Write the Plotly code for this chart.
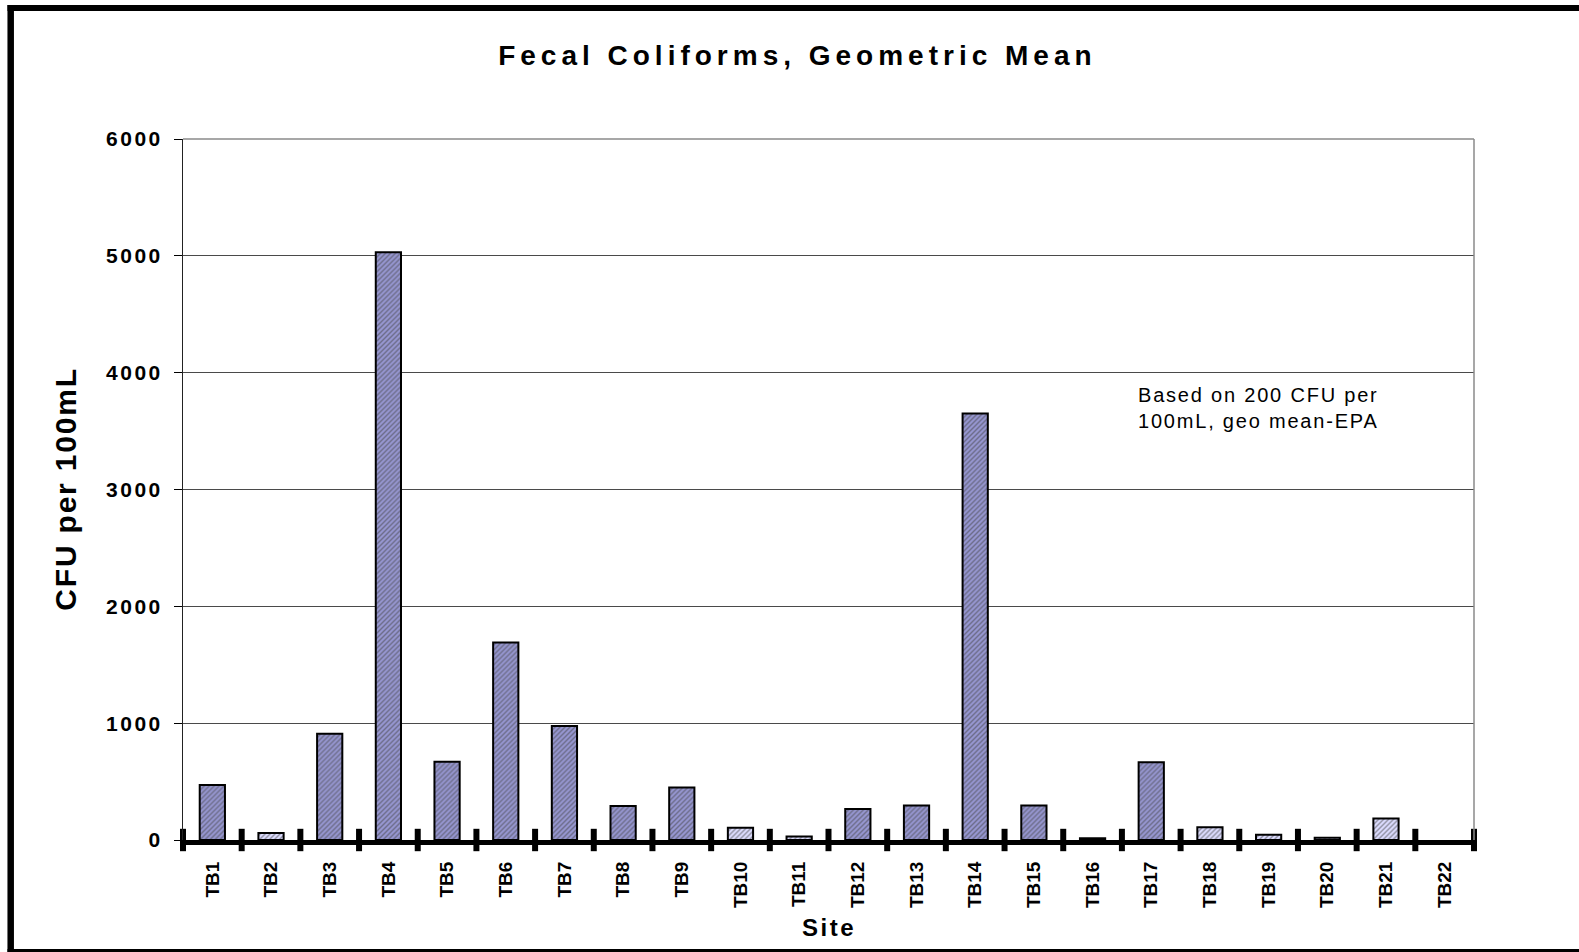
import plotly.graph_objects as go

# Fecal coliform geometric means per sampling site (CFU per 100 mL)
sites = ["TB1", "TB2", "TB3", "TB4", "TB5", "TB6", "TB7", "TB8", "TB9", "TB10", "TB11",
         "TB12", "TB13", "TB14", "TB15", "TB16", "TB17", "TB18", "TB19", "TB20", "TB21", "TB22"]
geo_mean = [470, 60, 910, 5030, 670, 1690, 975, 290, 450, 105, 30,
            265, 295, 3650, 295, 15, 665, 110, 45, 20, 185, None]
epa_limit = 200  # EPA geometric-mean standard, CFU per 100 mL
y_ticks = [0, 1000, 2000, 3000, 4000, 5000, 6000]

W, H = 1579, 952
ML, MR, MT, MB = 183, 105, 139, 112
PW, PH = W - ML - MR, H - MT - MB


def px_x(p):
    return (p - ML) / PW


def px_y(p):
    return (H - MB - p) / PH


FONT = "Liberation Sans, Arial, sans-serif"
pos = list(range(len(sites)))

over = [v is not None and v >= epa_limit for v in geo_mean]
bg = ["#9696d0" if o else "#dcdcff" for o in over]
fg = ["#6c6caa" if o else "#7c7cff" for o in over]

fig = go.Figure()
fig.add_trace(go.Bar(
    x=pos, y=geo_mean,
    marker=dict(color=bg, line=dict(color="black", width=2),
                pattern=dict(shape="/", size=3.5, solidity=0.4, fgcolor=fg, bgcolor=bg)),
    hoverinfo="skip", showlegend=False,
))
# category boundary marks on the x axis
bounds = [i - 0.5 for i in range(len(sites) + 1)]
fig.add_trace(go.Scatter(
    x=bounds, y=[0] * len(bounds), mode="markers", cliponaxis=False,
    marker=dict(symbol="line-ns", size=16, color="black", line=dict(color="black", width=6)),
    hoverinfo="skip", showlegend=False,
))

shapes = [
    # plot frame (top, right)
    dict(type="line", xref="paper", yref="paper", x0=0, x1=1, y0=1, y1=1,
         line=dict(color="#8a8a8a", width=1.5)),
    dict(type="line", xref="paper", yref="paper", x0=1, x1=1, y0=0, y1=1,
         line=dict(color="#8a8a8a", width=1.5)),
    # outer page border
    dict(type="line", xref="paper", yref="paper", x0=px_x(10.7), x1=px_x(10.7),
         y0=px_y(5), y1=px_y(H), line=dict(color="black", width=6.5)),
    dict(type="line", xref="paper", yref="paper", x0=px_x(7.5), x1=px_x(W),
         y0=px_y(8), y1=px_y(8), line=dict(color="black", width=6)),
    dict(type="line", xref="paper", yref="paper", x0=px_x(7.5), x1=px_x(W),
         y0=px_y(950.5), y1=px_y(950.5), line=dict(color="black", width=3)),
]

annotations = [
    dict(text="<b>CFU per 100mL</b>", xref="paper", yref="paper",
         x=px_x(65.5), y=0.5, xanchor="center", yanchor="middle",
         textangle=-90, showarrow=False,
         font=dict(family=FONT, size=30, color="black")),
    dict(text="<b>Site</b>", xref="paper", yref="paper",
         x=0.5, y=px_y(927.5), xanchor="center", yanchor="middle", showarrow=False,
         font=dict(family=FONT, size=24, color="black")),
    dict(text="Based on 200 CFU per<br>100mL, geo mean-EPA", xref="paper", yref="paper",
         x=px_x(1136), y=px_y(408), xanchor="left", yanchor="middle", align="left",
         showarrow=False, font=dict(family=FONT, size=20, color="black")),
]

fig.update_layout(
    width=W, height=H, autosize=False,
    margin=dict(l=ML, r=MR, t=MT, b=MB),
    paper_bgcolor="white", plot_bgcolor="white",
    bargap=0.57,
    title=dict(text="<b>Fecal Coliforms, Geometric Mean</b>", x=0.505, xref="container",
               xanchor="center", y=1 - 55.5 / H, yanchor="middle", yref="container",
               font=dict(family=FONT, size=28, color="black")),
    xaxis=dict(range=[-0.5, len(sites) - 0.5], tickvals=pos, ticktext=sites,
               tickangle=-90, ticks="", showgrid=False, zeroline=False,
               showline=True, linecolor="black", linewidth=5,
               ticklabelstandoff=9,
               tickfont=dict(family=FONT, size=19, color="black", weight="bold")),
    yaxis=dict(range=[0, 6000], tickvals=y_ticks, showgrid=True, gridcolor="#4a4a4a",
               gridwidth=1, zeroline=False, showline=True, linecolor="#222222", linewidth=1,
               ticks="outside", ticklen=8, tickwidth=1, tickcolor="black",
               ticklabelstandoff=7,
               tickfont=dict(family=FONT, size=21, color="black", weight="bold")),
    shapes=shapes,
    annotations=annotations,
)

spacing_js = """
var gd = document.getElementById('{plot_id}');
function spreadText() {
  var set = function (sel, px) {
    gd.querySelectorAll(sel).forEach(function (el) { el.style.letterSpacing = px; });
  };
  set('.gtitle', '5px');
  set('g.ytick text', '2.5px');
  set('g.annotation[data-index="0"] .annotation-text', '1.8px');
  set('g.annotation[data-index="1"] .annotation-text', '2.5px');
  set('g.annotation[data-index="2"] .annotation-text', '1.8px');
}
spreadText();
gd.on('plotly_afterplot', spreadText);
"""

fig.write_html("out.html", config={"displayModeBar": False}, post_script=spacing_js)
